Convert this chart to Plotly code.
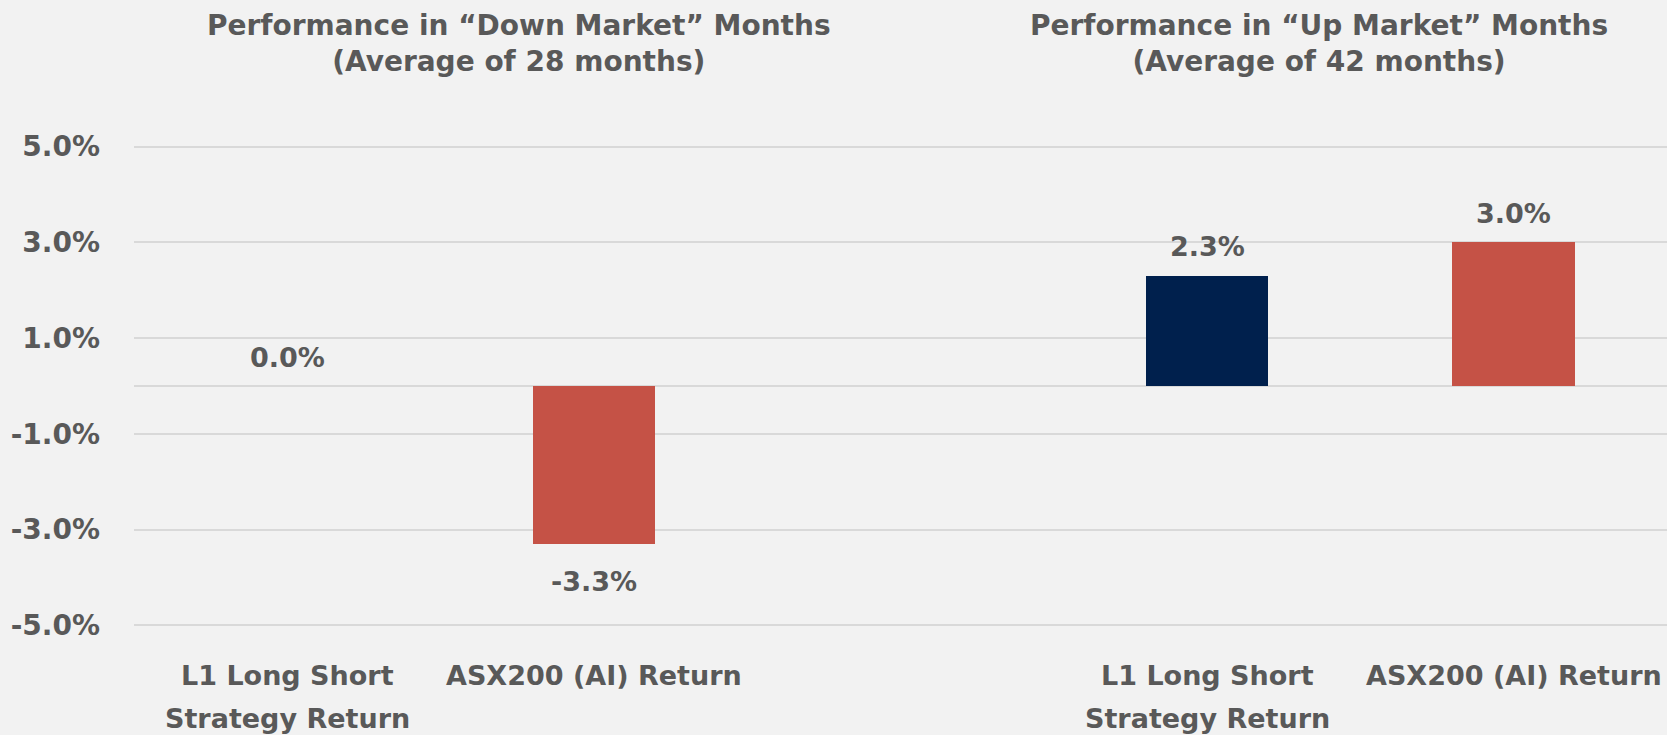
import plotly.graph_objects as go

# ---- data ----
panel_titles = ["Performance in “Down Market” Months<br>(Average of 28 months)",
                "Performance in “Up Market” Months<br>(Average of 42 months)"]
categories = ["L1 Long Short<br>Strategy Return", "ASX200 (AI) Return"]
l1_values = [0.0, 2.3]      # down, up
asx_values = [-3.3, 3.0]    # down, up
y_ticks = [5.0, 3.0, 1.0, -1.0, -3.0, -5.0]

# ---- style ----
NAVY = "#00204D"
RED = "#C55246"
TXT = "#595959"
BG = "#F2F2F2"
GRID = "#D9D9D9"
FONT = "DejaVu Sans"
FS = 27
FS_BIG = 28
WT = "bold"

# slot positions: panel p, category c -> p*3 + c  (empty slot in between)
series = [(categories[0], l1_values, NAVY), (categories[1], asx_values, RED)]

fig = go.Figure()
for ci, (name, vals, col) in enumerate(series):
    xs = [p * 3 + ci for p in range(len(vals))]
    fig.add_trace(go.Bar(x=xs, y=vals, width=0.4, marker=dict(color=col, line=dict(width=0)),
                         name=name, showlegend=False, hoverinfo="skip"))
    for x, v in zip(xs, vals):
        fig.add_annotation(x=x, y=v, xref="x", yref="y", text=f"{v:.1f}%",
                           showarrow=False, yanchor="middle",
                           yshift=29 if v >= 0 else -37,
                           font=dict(family=FONT, size=FS, color=TXT, weight=WT))
        lines = name.split("<br>")
        for li, line in enumerate(lines):
            fig.add_annotation(x=x, y=0, xref="x", yref="paper", text=line,
                               showarrow=False, yanchor="middle",
                               yshift=-40 - 43 * li,
                               font=dict(family=FONT, size=FS, color=TXT, weight=WT))

for p, t in enumerate(panel_titles):
    fig.add_annotation(x=[0.251, 0.773][p], y=1, xref="paper", yref="paper", text=t,
                       showarrow=False, yanchor="middle", xanchor="center", yshift=94,
                       font=dict(family=FONT, size=FS_BIG, color=TXT, weight=WT))

fig.update_layout(
    width=1667, height=735,
    paper_bgcolor=BG, plot_bgcolor=BG,
    margin=dict(l=134, r=0, t=137, b=100),
    bargap=0,
    xaxis=dict(range=[-0.5, 4.5], showgrid=False, zeroline=False, showticklabels=False,
               fixedrange=True),
    yaxis=dict(range=[-5.2, 5.2], tickvals=y_ticks, ticktext=[f"{v:.1f}%" for v in y_ticks],
               showgrid=True, gridcolor=GRID, gridwidth=2,
               zeroline=True, zerolinecolor=GRID, zerolinewidth=2,
               ticklabelstandoff=33, fixedrange=True,
               tickfont=dict(family=FONT, size=FS_BIG, color=TXT, weight=WT)),
)
fig.write_html("out.html", post_script="document.body.style.margin='0';",
               config={"displayModeBar": False})
